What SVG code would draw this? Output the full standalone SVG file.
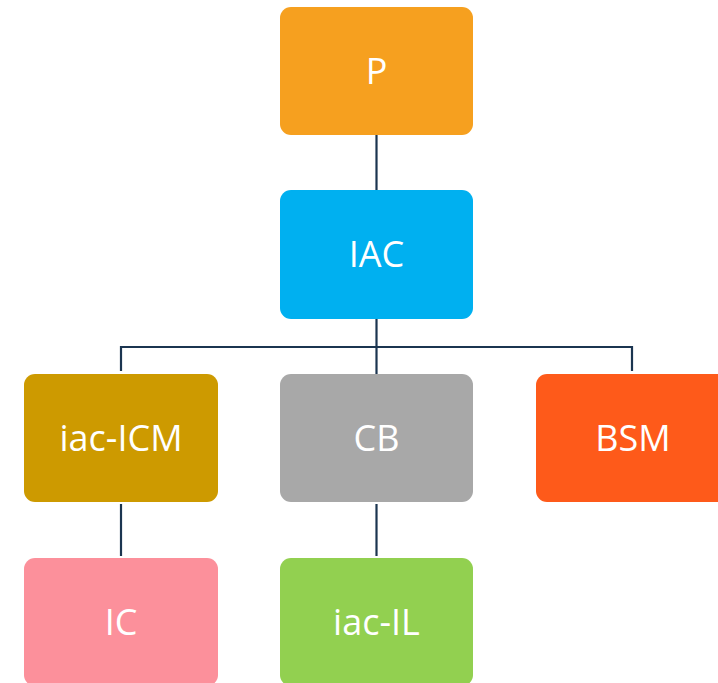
<svg xmlns="http://www.w3.org/2000/svg" width="718" height="683" viewBox="0 0 718 683">
<style>
.box{stroke:none}
.lbl{font-family:"Open Sans","Liberation Sans",sans-serif;font-size:36px;fill:#ffffff;text-anchor:middle}
.conn{stroke:#1B3550;stroke-width:2.2;fill:none}
</style>
<rect width="718" height="683" fill="#ffffff"/>
<g id="connectors">
<line class="conn" x1="376.5" y1="135" x2="376.5" y2="190"/>
<line class="conn" x1="376.5" y1="319" x2="376.5" y2="374"/>
<polyline class="conn" points="121,371 121,347 632,347 632,371"/>
<line class="conn" x1="121" y1="504" x2="121" y2="556"/>
<line class="conn" x1="376.5" y1="504" x2="376.5" y2="556"/>
</g>
<g id="P"><rect class="box" x="280" y="7" width="193" height="128" rx="11" fill="#F6A01F"/><text class="lbl" x="376.5" y="84">P</text></g>
<g id="IAC"><rect class="box" x="280" y="190" width="193" height="129" rx="11" fill="#00B0F0"/><text class="lbl" x="376.5" y="267">IAC</text></g>
<g id="iac-ICM"><rect class="box" x="24" y="374" width="194" height="128" rx="11" fill="#CD9A00"/><text class="lbl" x="121" y="451">iac-ICM</text></g>
<g id="CB"><rect class="box" x="280" y="374" width="193" height="128" rx="11" fill="#A8A8A8"/><text class="lbl" x="376.5" y="451">CB</text></g>
<g id="BSM"><rect class="box" x="536" y="374" width="194" height="128" rx="11" fill="#FE5A1A"/><text class="lbl" x="633" y="451">BSM</text></g>
<g id="IC"><rect class="box" x="24" y="558" width="194" height="128" rx="11" fill="#FC909B"/><text class="lbl" x="121" y="635">IC</text></g>
<g id="iac-IL"><rect class="box" x="280" y="558" width="193" height="128" rx="11" fill="#92D050"/><text class="lbl" x="376.5" y="635">iac-IL</text></g>
</svg>
